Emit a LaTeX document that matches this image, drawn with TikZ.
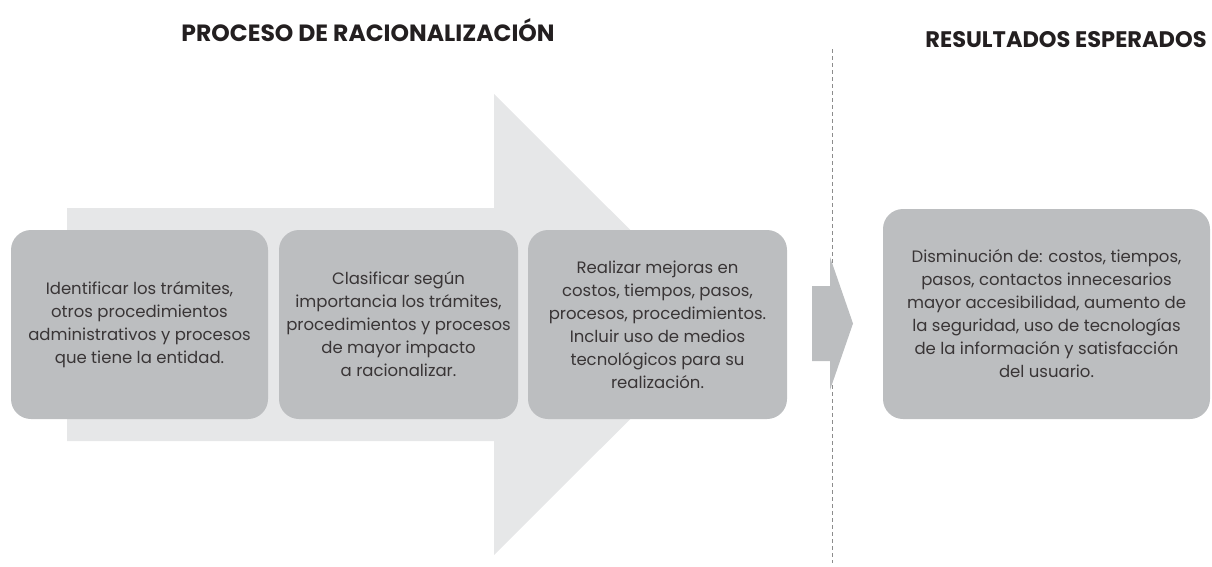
\documentclass[tikz,border=0pt]{standalone}
\usepackage{fontspec}
\setmainfont{Poppins}
\usetikzlibrary{positioning}
\definecolor{boxgray}{RGB}{188,190,192}
\definecolor{arrowgray}{RGB}{230,231,232}
\definecolor{dashgray}{RGB}{140,140,140}
\definecolor{ink}{RGB}{35,31,32}
\tikzset{
  box/.style={fill=boxgray, rounded corners=20pt, inner sep=0pt, align=center, minimum height=189pt, minimum width=#1, font=\fontsize{16.5}{23}\selectfont, text=ink!90},
  box/.default={257pt},
  title/.style={font=\fontsize{23.5}{28}\selectfont\bfseries, text=ink, inner sep=0pt},
  divider/.style={draw=dashgray, line width=1pt, dash pattern=on 4pt off 3pt}
}

\begin{document}
\begin{tikzpicture}[x=1pt,y=-1pt]
  \useasboundingbox (0,0) rectangle (1212,566);
  % big arrow in the back
  \fill[arrowgray] (67,208) -- (494,208) -- (494,94) -- (725,324.5) -- (494,555) -- (494,441) -- (67,441) -- cycle;
  \draw[divider] (832,49) -- (832,563);
  % small arrow
  \fill[boxgray] (812,286) -- (830,286) -- (830,257) -- (853,323.5) -- (830,390) -- (830,361) -- (812,361) -- cycle;
  \node[title] (proc) at (368,30) {PROCESO DE RACIONALIZACIÓN};
  \node[title, font=\fontsize{22.5}{27}\selectfont\bfseries] (res) at (1066,40) {RESULTADOS ESPERADOS};
  \node[box=257pt] (b1) at (139.5,324.5) {Identificar los trámites,\\otros procedimientos\\administrativos y procesos\\que tiene la entidad.};
  \node[box=239pt] (b2) at (398.5,324.5) {Clasificar según\\importancia los trámites,\\procedimientos y procesos\\de mayor impacto\\a racionalizar.};
  \node[box=259pt] (b3) at (657.5,324.5) {Realizar mejoras en\\costos, tiempos, pasos,\\procesos, procedimientos.\\Incluir uso de medios\\tecnológicos para su\\realización.};
  \node[box=327pt, minimum height=210pt] (b4) at (1046.5,314) {Disminución de: costos, tiempos,\\pasos, contactos innecesarios\\mayor accesibilidad, aumento de\\la seguridad, uso de tecnologías\\de la información y satisfacción\\del usuario.};
\end{tikzpicture}
\end{document}
